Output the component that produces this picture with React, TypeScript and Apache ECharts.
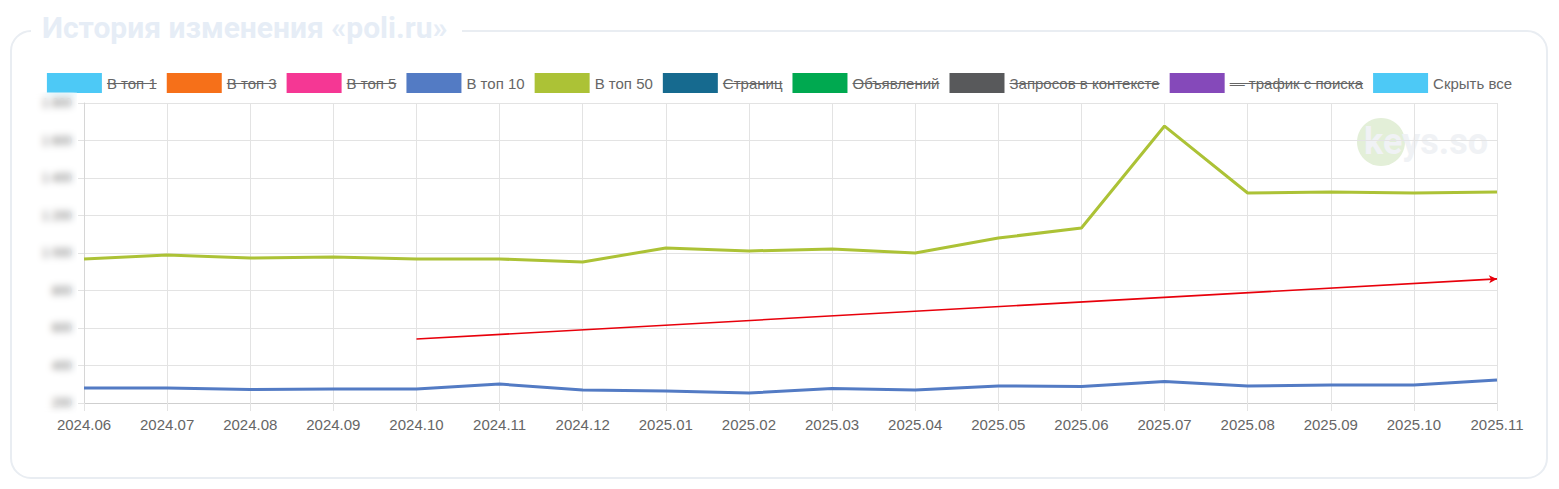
import React, { useEffect, useRef } from "react";
import * as echarts from "echarts";

// Months on the x axis
const months = [
  "2024.06", "2024.07", "2024.08", "2024.09", "2024.10", "2024.11",
  "2024.12", "2025.01", "2025.02", "2025.03", "2025.04", "2025.05",
  "2025.06", "2025.07", "2025.08", "2025.09", "2025.10", "2025.11",
];

// Keywords in top 10 / top 50
const top10 = [280, 280, 272, 275, 275, 301, 269, 264, 253, 277, 269, 291, 288, 315, 291, 296, 296, 323];
const top50 = [968, 989, 973, 979, 968, 968, 952, 1027, 1011, 1021, 1000, 1080, 1133, 1677, 1320, 1325, 1320, 1325];

// Trend arrow: start and end points
const trendStart: [string, number] = ["2024.10", 541];
const trendEnd: [string, number] = ["2025.11", 862];

// Legend entries, their colours and which ones are switched off (struck through)
const legendNames = [
  "В топ 1", "В топ 3", "В топ 5", "В топ 10", "В топ 50",
  "Страниц", "Объявлений", "Запросов в контексте", "— трафик с поиска", "Скрыть все",
];
const legendColors = [
  "#4dc9f6", "#f67019", "#f53794", "#537bc4", "#acc236",
  "#166a8f", "#00a950", "#58595b", "#8549ba", "#4dc9f6",
];
const legendStruck = [true, true, true, false, false, true, true, true, true, false];

// Y axis range
const yMin = 200;
const yMax = 1800;
const yStep = 200;

const title = "История изменения «poli.ru»";
const watermark = "keys.so";

const W = 1559;
const H = 489;
const FONT = "Liberation Sans";

function formatThousands(v: number): string {
  if (v >= 1000) {
    return `${Math.floor(v / 1000)} ${String(v % 1000).padStart(3, "0")}`;
  }
  return String(v);
}

export default function App() {
  const ref = useRef<HTMLDivElement>(null);

  useEffect(() => {
    if (!ref.current) return;
    const chart = echarts.init(ref.current, undefined, { renderer: "svg" });

    // Legend geometry (mirrors ECharts' horizontal legend layout) for strike lines
    const itemW = 55;
    const itemH = 20;
    const gap = 10;
    const legendTop = 73;
    const legendFontSize = 15;
    const canvas = document.createElement("canvas");
    const ctx = canvas.getContext("2d")!;
    ctx.font = `normal normal ${legendFontSize}px ${FONT}`;
    const textWidths = legendNames.map((n) => ctx.measureText(n).width);
    const total =
      textWidths.reduce((s, w) => s + itemW + 5 + w, 0) + gap * (legendNames.length - 1);
    let cursor = (W - total) / 2;
    const strikes: any[] = [];
    legendNames.forEach((n, i) => {
      const tx = cursor + itemW + 5;
      if (legendStruck[i]) {
        strikes.push({
          type: "line",
          z: 100,
          shape: { x1: tx, y1: legendTop + 10.5, x2: tx + textWidths[i], y2: legendTop + 10.5 },
          style: { stroke: "#666", lineWidth: 1 },
        });
      }
      cursor += itemW + 5 + textWidths[i] + gap;
    });

    const series: any[] = legendNames.map((name, i) => {
      const base: any = {
        name,
        type: "line",
        data: [],
        showSymbol: false,
        symbol: "none",
        itemStyle: { color: legendColors[i] },
        lineStyle: { color: legendColors[i], width: 3 },
      };
      if (name === "В топ 10") base.data = top10;
      if (name === "В топ 50") base.data = top50;
      return base;
    });

    // Red trend arrow
    series.push({
      name: "trend",
      type: "line",
      data: [],
      markLine: {
        silent: true,
        symbol: ["none", "arrow"],
        symbolSize: [6, 8],
        label: { show: false },
        lineStyle: { color: "#e8000b", width: 1.6, type: "solid" },
        data: [[{ coord: trendStart }, { coord: trendEnd }]],
      },
    });

    chart.setOption({
      animation: false,
      backgroundColor: "#ffffff",
      textStyle: { fontFamily: FONT },
      grid: { left: 84, right: W - 1497, top: 103, bottom: H - 403, containLabel: false },
      legend: {
        data: legendNames,
        top: legendTop,
        left: "center",
        padding: 0,
        itemGap: gap,
        itemWidth: itemW,
        itemHeight: itemH,
        icon: "rect",
        selectedMode: false,
        textStyle: { color: "#666", fontSize: legendFontSize, fontFamily: FONT },
      },
      xAxis: {
        type: "category",
        data: months,
        boundaryGap: false,
        axisLine: { show: true, lineStyle: { color: "#cfcfcf", width: 1 } },
        axisTick: { show: true, length: 8, lineStyle: { color: "#e3e3e3" } },
        splitLine: { show: true, lineStyle: { color: "#e3e3e3", width: 1 } },
        axisLabel: { interval: 0, color: "#666", fontSize: 15, margin: 14, fontFamily: FONT },
      },
      yAxis: {
        type: "value",
        min: yMin,
        max: yMax,
        interval: yStep,
        axisLine: { show: true, lineStyle: { color: "#d6d6d6", width: 1 } },
        axisTick: { show: true, length: 6, lineStyle: { color: "#e3e3e3" } },
        splitLine: { show: true, lineStyle: { color: "#e3e3e3", width: 1 } },
        axisLabel: {
          color: "#666",
          fontSize: 12,
          margin: 12,
          fontFamily: FONT,
          formatter: (v: number) => formatThousands(v),
        },
      },
      graphic: [
        // Outer rounded frame
        {
          type: "rect",
          z: -5,
          shape: { x: 11, y: 31, width: 1536, height: 447, r: 20 },
          style: { fill: "none", stroke: "#e9edf2", lineWidth: 2 },
        },
        // Gap in the frame behind the heading
        {
          type: "rect",
          z: -4,
          shape: { x: 31, y: 22, width: 431, height: 18 },
          style: { fill: "#ffffff" },
        },
        {
          type: "text",
          z: -3,
          x: 42,
          y: 27,
          style: {
            text: title,
            fill: "#e6edf6",
            font: "bold 30px Roboto",
            verticalAlign: "middle",
          },
        },
        // Watermark
        {
          type: "circle",
          z: -10,
          shape: { cx: 1381, cy: 142, r: 24 },
          style: { fill: "#e3efd8" },
        },
        {
          type: "text",
          z: -9,
          x: 1364,
          y: 142,
          style: {
            text: watermark,
            fill: "#f0f2f5",
            font: "bold 36px Roboto",
            verticalAlign: "middle",
          },
        },
        ...strikes,
      ],
      series,
    });

    return () => chart.dispose();
  }, []);

  return (
    <div style={{ position: "absolute", left: 0, top: 0, width: W, height: H, background: "#fff" }}>
      <div ref={ref} style={{ position: "absolute", left: 0, top: 0, width: W, height: H }} />
      {/* soft blur over the y-axis values */}
      <div
        style={{
          position: "absolute",
          left: 22,
          top: 92,
          width: 55,
          height: 322,
          backdropFilter: "blur(3.5px)",
          WebkitBackdropFilter: "blur(3.5px)",
          pointerEvents: "none",
        }}
      />
    </div>
  );
}
